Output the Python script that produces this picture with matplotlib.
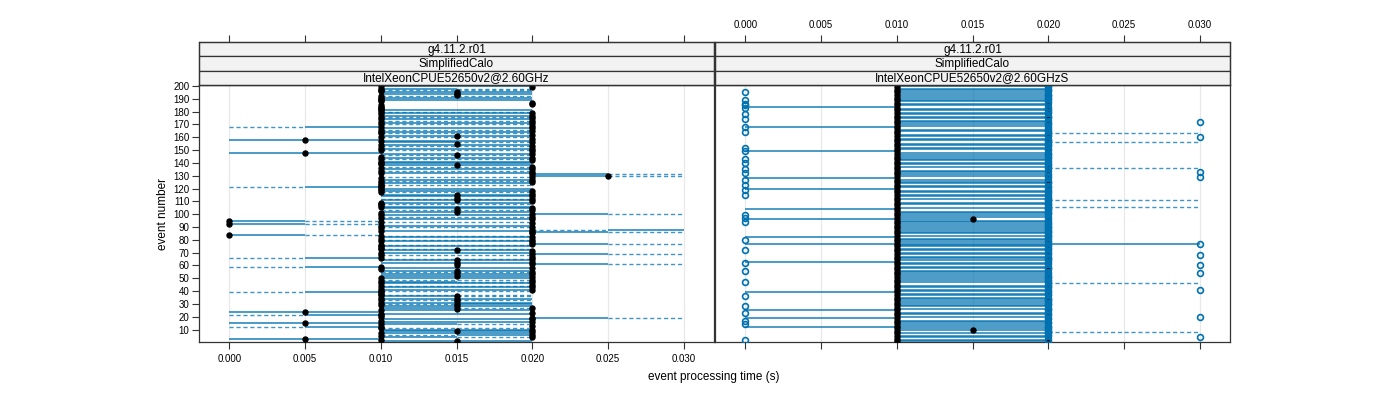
import matplotlib
matplotlib.use("Agg")
import matplotlib.pyplot as plt
from matplotlib.collections import LineCollection
from matplotlib.patches import Rectangle
import numpy as np

plt.rcParams['font.family'] = ['Liberation Sans', 'DejaVu Sans']

# time grid step of the measurements (s); values below are in steps of 5 ms
step = 0.005
xticks = [0.000, 0.005, 0.010, 0.015, 0.020, 0.025, 0.030]
yticks = list(range(10, 201, 10))
strips = ["g4.11.2.r01", "SimplifiedCalo"]
panel_names = ["IntelXeonCPUE52650v2@2.60GHz", "IntelXeonCPUE52650v2@2.60GHzS"]

# left panel: point per event (in 5 ms steps) and line pattern per 5 ms interval
# ' ' = nothing, 's' = solid, 'd' = dashed
left_pt = [
    3, 2, 1, 4, 2, 4, 2, 4, 3, 4,
    2, 2, 4, 2, 1, 4, 2, 4, 4, 2,
    2, 2, 4, 1, 2, 3, 4, 3, 2, 3,
    2, 3, 2, 3, 2, 3, 2, 2, 2, 2,
    4, 2, 4, 2, 4, 2, 4, 2, 4, 2,
    4, 3, 4, 3, 4, 3, 2, 4, 2, 3,
    4, 3, 4, 3, 4, 2, 4, 2, 4, 2,
    4, 3, 2, 2, 2, 2, 4, 4, 2, 4,
    2, 4, 2, 0, 4, 4, 2, 4, 2, 4,
    2, 0, 4, 2, 0, 4, 2, 4, 2, 4,
    2, 3, 4, 3, 4, 2, 2, 2, 2, 4,
    3, 4, 3, 4, 3, 4, 2, 4, 2, 2,
    2, 2, 2, 2, 4, 2, 4, 2, 4, 5,
    4, 2, 4, 2, 4, 2, 4, 3, 2, 2,
    2, 4, 2, 4, 2, 3, 4, 1, 4, 2,
    4, 2, 4, 2, 3, 4, 2, 1, 4, 2,
    3, 4, 2, 2, 4, 2, 4, 2, 4, 2,
    4, 2, 4, 2, 4, 2, 4, 2, 4, 2,
    2, 2, 2, 2, 2, 4, 4, 2, 2, 2,
    2, 2, 3, 3, 3, 2, 2, 2, 4, 2,
]
left_seg = [
    "  ss  ", "      ", "ss    ", "  sd  ", "      ", "  ds  ", "  ss  ", "      ", "  ss  ", "  ss  ",
    "  dd  ", "ds    ", "      ", "  sd  ", "ss    ", "  ss  ", "      ", "  ss  ", "    sd", "      ",
    "ds    ", "  ss  ", "      ", "ss    ", "  ss  ", "      ", "  sd  ", "  ss  ", "      ", "  ds  ",
    "  ss  ", "      ", "  dd  ", "  ss  ", "      ", "  sd  ", "  dd  ", "      ", "ds    ", "  dd  ",
    "  ss  ", "      ", "  ss  ", "  dd  ", "      ", "  ss  ", "  sd  ", "      ", "  dd  ", "  ss  ",
    "      ", "  ss  ", "  ss  ", "      ", "  dd  ", "  ss  ", "      ", "  ss  ", "ds    ", "      ",
    "    sd", "  ss  ", "      ", "  ss  ", "  dd  ", "ds    ", "      ", "  dd  ", "    sd", "  ss  ",
    "      ", "  ss  ", "  dd  ", "      ", "  ss  ", "  dd  ", "    sd", "      ", "  ss  ", "  dd  ",
    "      ", "  ss  ", "  dd  ", "sd    ", "      ", "    sd", "  ss  ", "    ds", "      ", "  dd  ",
    "  ss  ", "sd    ", "      ", "  dd  ", "sd    ", "  ss  ", "      ", "  dd  ", "  ss  ", "    sd",
    "      ", "  ss  ", "  dd  ", "      ", "  ss  ", "  ss  ", "      ", "  dd  ", "  ss  ", "      ",
    "  ss  ", "  dd  ", "      ", "  ss  ", "  ss  ", "      ", "  dd  ", "  ss  ", "      ", "  ss  ",
    "ds    ", "      ", "  dd  ", "  ss  ", "      ", "  dd  ", "  ss  ", "      ", "  dd  ", "    sd",
    "    sd", "  ss  ", "      ", "  dd  ", "  ss  ", "      ", "  dd  ", "  ss  ", "      ", "  ss  ",
    "  ss  ", "      ", "  dd  ", "  ss  ", "      ", "  dd  ", "  ss  ", "ss    ", "      ", "  dd  ",
    "  ss  ", "      ", "  dd  ", "  ss  ", "      ", "  sd  ", "  ss  ", "ss    ", "      ", "  dd  ",
    "  ss  ", "      ", "  dd  ", "  ss  ", "      ", "  dd  ", "  ss  ", "ds    ", "      ", "  dd  ",
    "  ss  ", "      ", "  dd  ", "  ss  ", "      ", "  dd  ", "  ss  ", "      ", "  ss  ", "  dd  ",
    "  ss  ", "      ", "      ", "      ", "      ", "      ", "      ", "      ", "  ss  ", "      ",
    "  ss  ", "  dd  ", "      ", "  ss  ", "  ss  ", "      ", "  dd  ", "  sd  ", "      ", "  ss  ",
]

# right panel: filled point, open circle (-1 = none) and line code per event
right_pt = [
    2, 4, 2, 4, 2, 4, 2, 4, 2, 3,
    2, 4, 2, 4, 2, 4, 2, 4, 2, 4,
    2, 4, 2, 4, 2, 4, 2, 4, 2, 4,
    2, 4, 2, 4, 2, 4, 2, 4, 2, 4,
    2, 4, 2, 4, 2, 4, 2, 4, 2, 4,
    2, 4, 2, 4, 2, 4, 2, 4, 2, 4,
    2, 4, 2, 4, 2, 4, 2, 4, 2, 4,
    2, 4, 2, 4, 2, 4, 2, 4, 2, 4,
    2, 4, 2, 4, 2, 4, 2, 4, 2, 4,
    2, 4, 2, 4, 2, 3, 2, 4, 2, 4,
    2, 4, 2, 4, 2, 4, 2, 4, 2, 4,
    2, 4, 2, 4, 2, 4, 2, 4, 2, 4,
    2, 4, 2, 4, 2, 4, 2, 4, 2, 4,
    2, 4, 2, 4, 2, 4, 2, 4, 2, 4,
    2, 4, 2, 4, 2, 4, 2, 4, 2, 4,
    2, 4, 2, 4, 2, 4, 2, 4, 2, 4,
    2, 4, 2, 4, 2, 4, 2, 4, 2, 4,
    2, 4, 2, 4, 2, 4, 2, 4, 2, 4,
    2, 4, 2, 4, 2, 4, 2, 4, 2, 4,
    2, 4, 2, 4, 2, 4, 2, 4, 2, 4,
]
right_circ = [
    4, 0, 4, 6, 4, 4, 4, 4, 4, 4,
    4, 4, 4, 0, 4, 4, 0, 4, 4, 6,
    4, 4, 0, 4, 4, 4, 4, 0, 4, 4,
    4, 4, 4, 4, 4, 0, 4, 4, 4, 4,
    6, 4, 4, 4, 4, 4, 0, 4, 4, 4,
    4, 4, 4, 6, 4, 0, 4, 4, 4, 6,
    4, 0, 4, 4, 4, 4, 4, 6, 4, 4,
    4, 0, 4, 4, 4, 4, 6, 4, 4, 0,
    4, 4, 4, 4, 4, 4, 4, 4, 4, 4,
    4, 4, 4, 0, 4, 4, 0, 4, 0, 4,
    4, 4, 4, 4, 4, 4, 4, 4, 4, 4,
    4, 4, 4, 4, 0, 4, 4, 4, 0, 4,
    4, 4, 0, 4, 4, 4, 0, 4, 6, 4,
    4, 0, 6, 4, 0, 4, 4, 4, 4, 0,
    4, 4, 0, 4, 4, 4, 4, 4, 0, 4,
    4, 0, 4, 4, 4, 4, 4, 4, 4, 6,
    4, 4, 4, 0, 4, 4, 4, 0, 4, 4,
    4, 6, 4, 0, 4, 4, 4, 0, 4, 4,
    4, 4, 0, 4, 0, 0, 4, 4, 0, 4,
    4, 4, 4, 4, 0, 4, 4, 4, 4, 4,
]
# s: solid 10-20 ms, b: none, Z: solid 0-10 ms, D: dashed 20-30 ms,
# F: solid 0-30 ms, T: solid 0-15 ms
right_code = (
    "ssbssbsDbs" "sZssbssbZs" "bssbZsbssb" "ssbssbssZs" "sbssbDsbss"
    "bssbssbssb" "ssZsbssbss" "bssbssFsbs" "sZsbssbssb" "ssbssTbssb"
    "ssbZsDbssb" "DsbssbssbZ" "ssbssbsZbs" "sbssbDsbss" "bssbssbsZb"
    "ssbssDbssb" "ssDbssbZss" "bssbssbssb" "ssbZssbssb" "ssbssbssbs"
)
right_code_seg = {'s': "  ss  ", 'b': "      ", 'Z': "ss    ",
                  'D': "    dd", 'F': "ssssss", 'T': "sss   "}
right_seg = [right_code_seg[c] for c in right_code]

blue = "#0072b2"
events = np.arange(1, 201)


def draw_lines(ax, segs):
    solid, dashed = [], []
    for y, pat in zip(events, segs):
        for k, c in enumerate(pat):
            seg = [(k * step, y), ((k + 1) * step, y)]
            if c == 's':
                solid.append(seg)
            elif c == 'd':
                dashed.append(seg)
    ax.add_collection(LineCollection(solid, colors=blue, linewidths=1.1, alpha=0.9, zorder=2))
    ax.add_collection(LineCollection(dashed, colors=blue, linewidths=1.0, alpha=0.75,
                                     linestyles=(0, (3, 2)), zorder=2))


fig = plt.figure(figsize=(14, 4), dpi=100)
W, H = 1400, 400
x_edges = [(199, 714), (715, 1230)]
py0, py1 = 85, 342
strip_h = 14.3

for p, (xa, xb) in enumerate(x_edges):
    ax = fig.add_axes([xa / W, 1 - py1 / H, (xb - xa) / W, (py1 - py0) / H])
    ax.set_xlim(-0.002, 0.032)
    ax.set_ylim(0.3, 200.8)
    for t in xticks:
        ax.axvline(t, color="#e8e8e8", lw=0.9, zorder=0)
    if p == 0:
        draw_lines(ax, left_seg)
        ax.plot(np.array(left_pt) * step, events, 'o', color='black', ms=3.6, zorder=3)
    else:
        draw_lines(ax, right_seg)
        ax.plot(np.array(right_pt) * step, events, 'o', color='black', ms=3.6, zorder=3)
        rc = np.array(right_circ, dtype=float)
        m = rc >= 0
        ax.plot(rc[m] * step, events[m], 'o', mfc='none', mec=blue, mew=1.2, ms=4.2, zorder=4)

    ax.set_xticks(xticks)
    ax.tick_params(direction='out', length=5, width=0.8, labelsize=7, color='#333333')
    if p == 0:
        ax.set_xticklabels([f"{t:.3f}" for t in xticks])
        ax.set_yticks(yticks)
        ax.set_yticklabels([str(v) for v in yticks])
        ax.tick_params(axis='y', pad=2)
    else:
        ax.set_xticklabels([])
        ax.set_yticks([])
    for s in ax.spines.values():
        s.set_color('#333333')
        s.set_linewidth(0.9)

    # strips above the panel
    sax = fig.add_axes([xa / W, 1 - (py0) / H, (xb - xa) / W, 3 * strip_h / H])
    sax.set_xlim(-0.002, 0.032)
    sax.set_ylim(0, 3)
    labels = strips + [panel_names[p]]
    for k, lab in enumerate(labels):
        yb = 2 - k
        sax.add_patch(Rectangle((-0.002, yb), 0.034, 1, facecolor='#f2f2f2',
                                edgecolor='#333333', lw=0.9, clip_on=False))
        sax.text(0.015, yb + 0.47, lab, ha='center', va='center', fontsize=8.5)
    sax.set_xticks(xticks)
    sax.xaxis.tick_top()
    sax.tick_params(axis='x', direction='out', length=5, width=0.8, labelsize=7, color='#333333')
    if p == 1:
        sax.set_xticklabels([f"{t:.3f}" for t in xticks])
    else:
        sax.set_xticklabels([])
    sax.set_yticks([])
    for s in sax.spines.values():
        s.set_color('#333333')
        s.set_linewidth(0.9)

fig.text(714 / W, 1 - 377 / H, "event processing time (s)", ha='center', va='center', fontsize=8.5)
fig.text(163 / W, 1 - 214 / H, "event number", ha='center', va='center', rotation=90, fontsize=8.5)

fig.savefig("out.png", dpi=100)
